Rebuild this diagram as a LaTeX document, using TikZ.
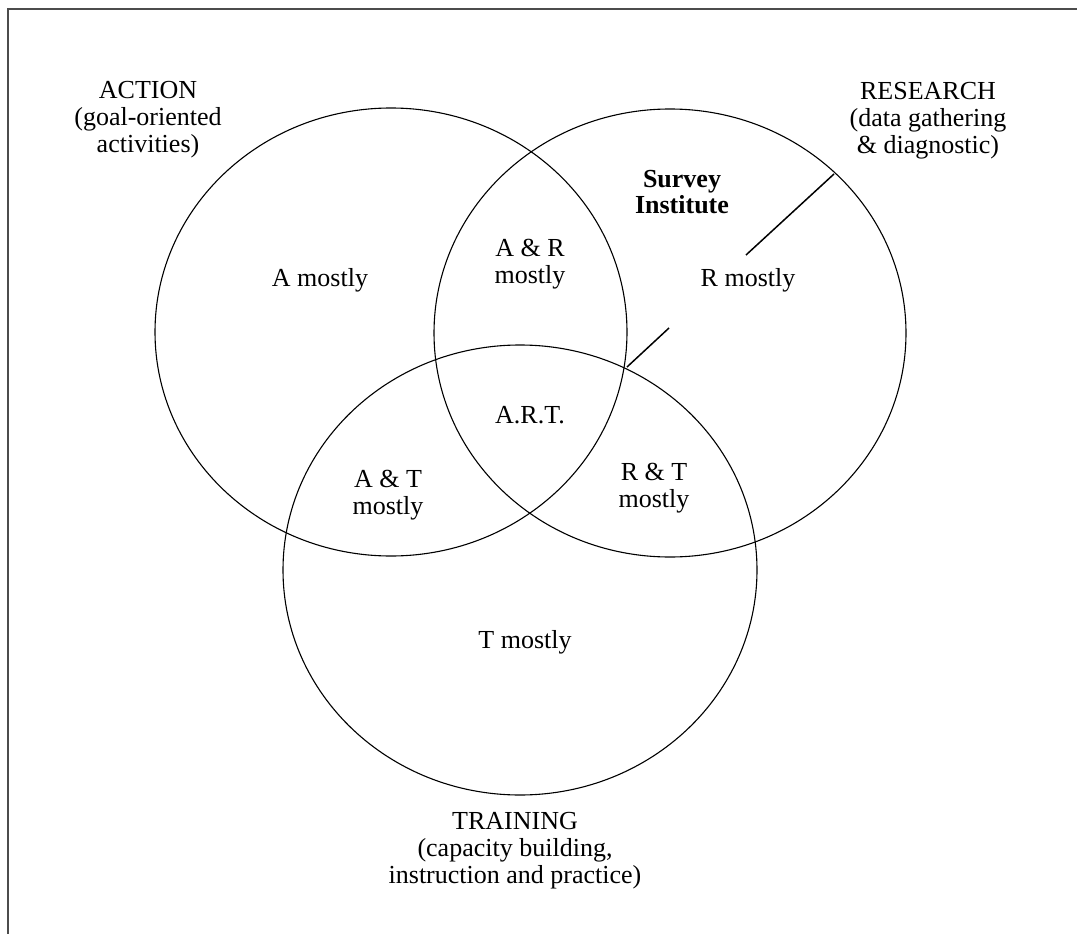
\documentclass[tikz,border=0pt]{standalone}
\usepackage{fontspec}
\setmainfont{Liberation Serif}
\tikzset{
  region/.style={draw=black, line width=1.1pt},
  lbl/.style={align=center, inner sep=0pt, font=\fontsize{26}{27}\selectfont},
  frameline/.style={draw=black!70, line width=1.8pt},
}
\begin{document}
\begin{tikzpicture}[x=1pt, y=-1pt]
        \useasboundingbox (0,0) rectangle (1077,934);
        % \draw[help lines, gray!50, very thin] (0,0) grid[step=100] (1077,934);

        \draw[frameline] (1077,9) -- (8,9) -- (8,934);

        % the three sets
        \draw[region] (391,332) ellipse (236 and 224);
        \draw[region] (670,333) ellipse (236 and 224);
        \draw[region] (520,570) ellipse (237 and 225);

        \node[lbl] (action) at (148,120) {ACTION\\(goal-oriented\\activities)};
        \node[lbl] (research) at (928,121) {RESEARCH\\(data gathering\\\& diagnostic)};
        \node[lbl] (training) at (515,851) {TRAINING\\(capacity building,\\instruction and practice)};

        \node[lbl, anchor=base] (amost) at (320,286) {A mostly};
        \node[lbl] (armost) at (530,264) {A \& R\\mostly};
        \node[lbl, anchor=base] (rmost) at (748,286) {R mostly};
        \node[lbl, anchor=base] (art) at (530,423) {A.R.T.};
        \node[lbl] (atmost) at (388,495) {A \& T\\mostly};
        \node[lbl] (rtmost) at (654,488) {R \& T\\mostly};
        \node[lbl, anchor=base] (tmost) at (525,648) {T mostly};

        \node[lbl, font=\fontsize{26}{26}\selectfont\bfseries] (survey) at (682,192) {Survey\\Institute};

        % pointer for the survey institute
        \coordinate (s1) at (834,174);
        \coordinate (s2) at (746,255);
        \coordinate (s3) at (669,328);
        \coordinate (s4) at (627,367);
        \draw[line width=1.5pt] (s1) -- (s2);
        \draw[line width=1.5pt] (s3) -- (s4);
\end{tikzpicture}
\end{document}
